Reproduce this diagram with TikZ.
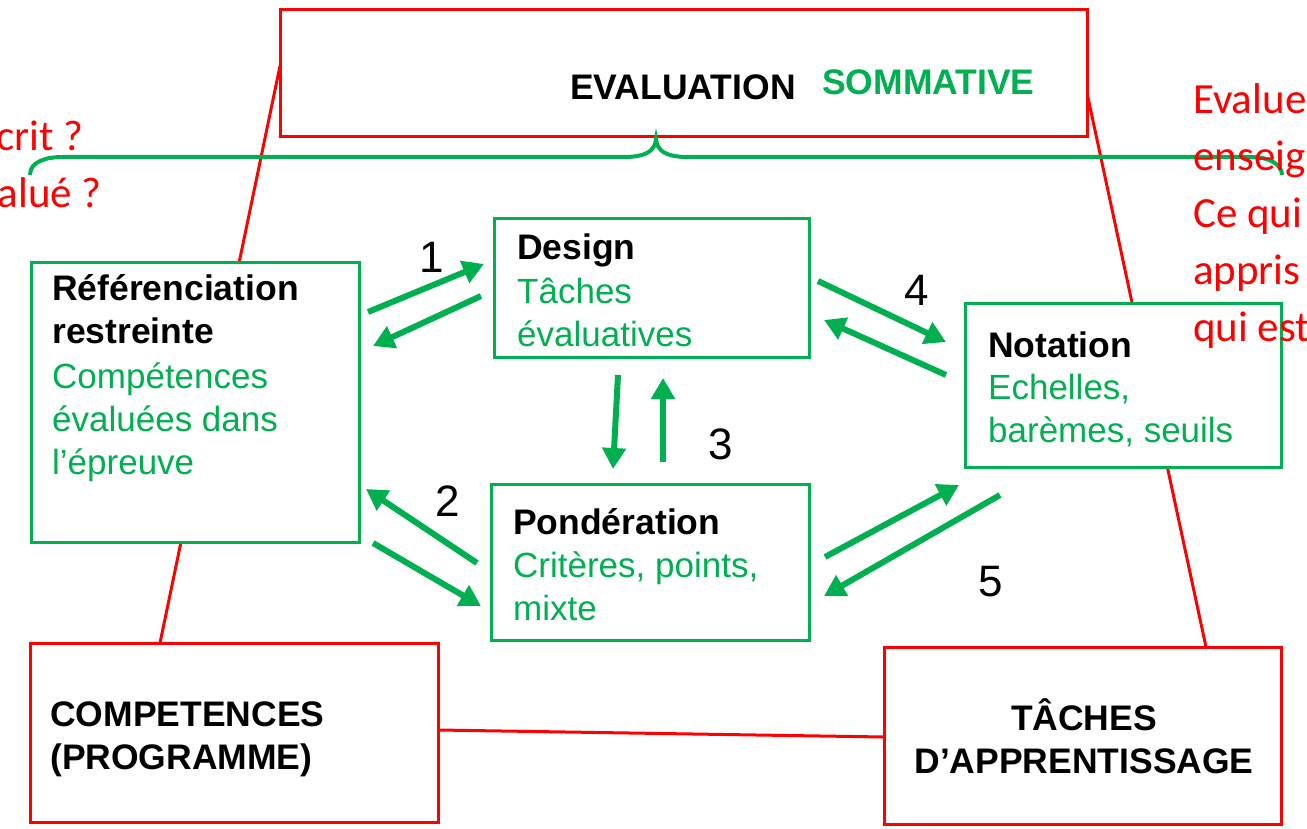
\documentclass[tikz,border=0pt]{standalone}
\usepackage{fontspec}
\setmainfont{Liberation Sans}
\newfontfamily\calib{Carlito}
\usetikzlibrary{arrows.meta,calc,backgrounds}
\definecolor{pgreen}{RGB}{0,176,80}
\definecolor{pred}{RGB}{255,0,0}
\begin{document}
\begin{tikzpicture}[x=1pt,y=-1pt,
  gbox/.style={draw=pgreen, line width=3pt, fill=white, rectangle, inner sep=0pt, outer sep=0pt},
  rbox/.style={draw=pred, line width=3pt, fill=white, rectangle, inner sep=0pt, outer sep=0pt},
  rline/.style={draw=pred, line width=3pt},
  garrow/.style={draw=pgreen, line width=6pt, -{Triangle[length=21pt,width=23pt]}},
  btxt/.style={font=\fontsize{35.5}{43}\selectfont\bfseries, inner sep=0pt, anchor=base west, align=left},
  gtxt/.style={font=\fontsize{35}{43}\selectfont, text=pgreen, inner sep=0pt, anchor=base west, align=left},
  numtxt/.style={font=\fontsize{44}{50}\selectfont, inner sep=0pt},
  rtxt/.style={font=\calib\fontsize{43}{57}\selectfont, text=pred, inner sep=0pt, align=left}
]
\useasboundingbox (0,0) rectangle (1307,829);

% boxes
\node[rbox, minimum width=807pt, minimum height=127pt] (eval) at (683.5,73.5) {};
\node[gbox, minimum width=328pt, minimum height=279pt] (ref) at (195,402.5) {};
\node[gbox, minimum width=315pt, minimum height=138pt] (design) at (651.5,288) {};
\node[gbox, minimum width=318pt, minimum height=156pt] (pond) at (650,562) {};
\node[gbox, minimum width=316pt, minimum height=164pt] (notation) at (1123,385) {};
\node[rbox, minimum width=408pt, minimum height=179pt] (comp) at (234,732.5) {};
\node[rbox, minimum width=397pt, minimum height=177pt] (taches) at (1082.5,735.5) {};

% red connecting lines (behind boxes)
\begin{pgfonlayer}{background}
\draw[rline] ($(eval.north west)+(0,56)$) -- ($(comp.north west)+(130,0)$);
\draw[rline] ($(eval.north east)+(0,83)$) -- ($(taches.north west)+(322,0)$);
\draw[rline] ($(comp.north east)+(0,87)$) -- ($(taches.north west)+(0,90)$);
\end{pgfonlayer}

% brace
\coordinate (brL) at (30,175);
\coordinate (brR) at (1282,175);
\coordinate (brT) at (656,139);
\draw[pgreen, line width=4pt]
  (brL) .. controls (30,162) and (45,157) .. (63,157) -- (624,157)
  .. controls (646,157) and (655,151) .. (brT)
  .. controls (657,151) and (666,157) .. (688,157) -- (1252,157)
  .. controls (1268,157) and (1282,164) .. (brR);

% texts in boxes (base anchor = baseline of the last line)
\node[btxt] (evt) at (570,100) {EVALUATION};
\node[btxt, text=pgreen] (som) at (822,95) {SOMMATIVE};
\node[btxt] (reft) at (52,343) {Référenciation\\restreinte};
\node[gtxt] (refb) at (52,474) {Compétences\\évaluées dans\\l’épreuve};
\node[btxt] (dest) at (517,260) {Design};
\node[gtxt] (desb) at (517,346) {Tâches\\évaluatives};
\node[btxt] (pont) at (513,534) {Pondération};
\node[gtxt] (ponb) at (513,620) {Critères, points,\\mixte};
\node[btxt] (nott) at (988,357) {Notation};
\node[gtxt] (notb) at (988,442) {Echelles,\\barèmes, seuils};
\node[btxt] (compt) at (50,769) {COMPETENCES\\(PROGRAMME)};
\node[btxt, anchor=base, align=center] (tacht) at (1084,773) {TÂCHES\\D’APPRENTISSAGE};

% arrows
\coordinate (a1s) at (368,312); \coordinate (a1e) at (484,264);
\coordinate (b1s) at (481,296); \coordinate (b1e) at (373,346);
\coordinate (a4s) at (818,281); \coordinate (a4e) at (946,342);
\coordinate (b4s) at (946,375); \coordinate (b4e) at (824,320);
\coordinate (a3s) at (618,375); \coordinate (a3e) at (613,469);
\coordinate (b3s) at (663,462); \coordinate (b3e) at (663,378);
\coordinate (a2s) at (477,563); \coordinate (a2e) at (366,489);
\coordinate (b2s) at (373,543); \coordinate (b2e) at (481,606);
\coordinate (a5s) at (825,557); \coordinate (a5e) at (959,485);
\coordinate (b5s) at (1000,495); \coordinate (b5e) at (824,596);
\draw[garrow] (a1s) -- (a1e);
\draw[garrow] (b1s) -- (b1e);
\draw[garrow] (a4s) -- (a4e);
\draw[garrow] (b4s) -- (b4e);
\draw[garrow] (a3s) -- (a3e);
\draw[garrow] (b3s) -- (b3e);
\draw[garrow] (a2s) -- (a2e);
\draw[garrow] (b2s) -- (b2e);
\draw[garrow] (a5s) -- (a5e);
\draw[garrow] (b5s) -- (b5e);

% numbers
\node[numtxt] (n1) at (432,257) {1};
\node[numtxt] (n2) at (448,501) {2};
\node[numtxt] (n3) at (721,444) {3};
\node[numtxt] (n4) at (917,290) {4};
\node[numtxt] (n5) at (991,582) {5};

% red side texts
\node[rtxt, anchor=base east] (lq1) at (84,151) {crit ?};
\node[rtxt, anchor=base east] (lq2) at (102,208) {alué ?};
\node[rtxt, anchor=base west] (rq) at (1193,341) {Evalue\\enseig\\Ce qui\\appris\\qui est};
\end{tikzpicture}
\end{document}
